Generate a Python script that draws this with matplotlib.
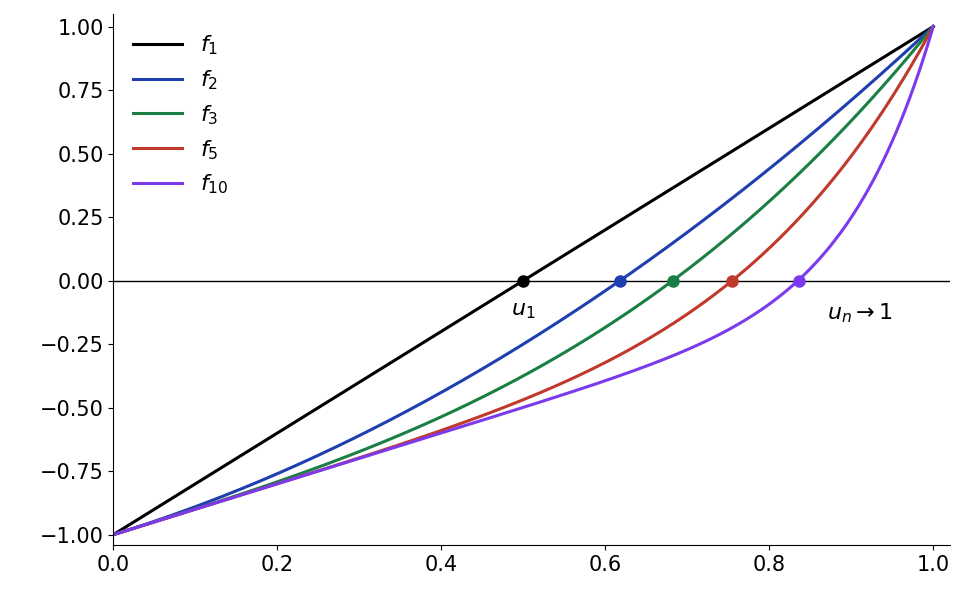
import numpy as np
import matplotlib.pyplot as plt

# f_n(x) = x^n + x - 1 on [0, 1]
powers = [1, 2, 3, 5, 10]
labels = [r"$f_{1}$", r"$f_{2}$", r"$f_{3}$", r"$f_{5}$", r"$f_{10}$"]
colors = ["#000000", "#1f3fb0", "#1a7f45", "#c0392b", "#7c3aed"]
roots = [0.5, 0.618, 0.682, 0.755, 0.836]

x = np.linspace(0.0, 1.0, 400)

fig, ax = plt.subplots(figsize=(9.69, 6.02), dpi=100)
fig.subplots_adjust(left=0.117, right=0.98, top=0.977, bottom=0.095)

for n, lab, c, r in zip(powers, labels, colors, roots):
    ax.plot(x, x**n + x - 1, color=c, lw=2.2, label=lab)
    ax.plot(r, 0, "o", color=c, ms=8, zorder=5)

ax.axhline(0, color="black", lw=1)
ax.text(0.5, -0.08, r"$u_1$", fontsize=16, ha="center", va="top")
ax.text(0.87, -0.08, r"$u_n \to 1$", fontsize=16, ha="left", va="top")

ax.set_xlim(0, 1.02)
ax.set_ylim(-1.04, 1.05)
ax.set_yticks(np.arange(-1.0, 1.01, 0.25))
ax.set_yticklabels([f"{v:.2f}".replace("-", "\u2212") for v in np.arange(-1.0, 1.01, 0.25)])
ax.tick_params(labelsize=15)
ax.spines["top"].set_visible(False)
ax.spines["right"].set_visible(False)
ax.legend(loc="upper left", frameon=False, fontsize=16, handlelength=2.2)

plt.savefig("out.png", dpi=100)
